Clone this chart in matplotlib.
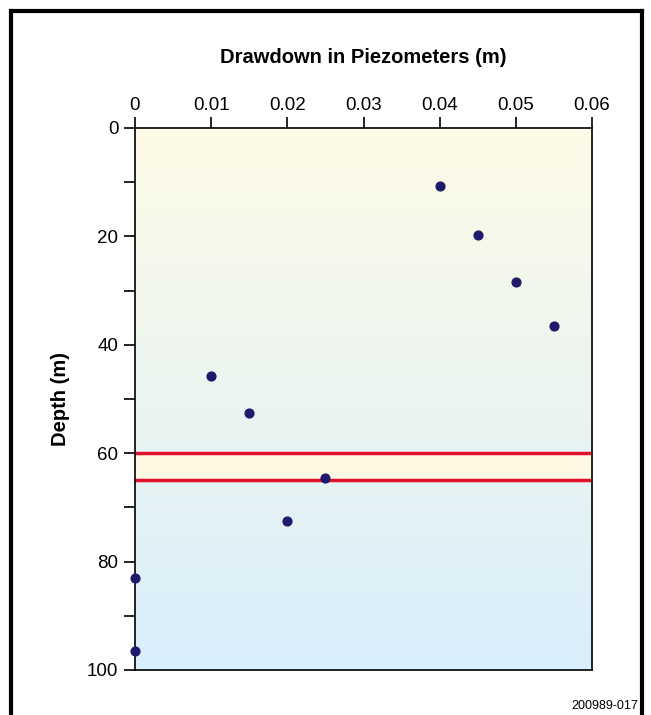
import matplotlib
matplotlib.use("Agg")
import matplotlib.pyplot as plt
import numpy as np
from matplotlib.colors import LinearSegmentedColormap
from matplotlib.lines import Line2D

# drawdown (m) and depth (m) of the piezometers
drawdown = [0.04, 0.045, 0.05, 0.055, 0.01, 0.015, 0.025, 0.02, 0.0, 0.0]
depth = [10.7, 19.7, 28.4, 36.5, 45.8, 52.6, 64.6, 72.5, 83.0, 96.5]
band_top, band_bottom = 60, 65
x_ticks = [0, 0.01, 0.02, 0.03, 0.04, 0.05, 0.06]
y_ticks = [0, 20, 40, 60, 80, 100]

plt.rcParams['font.family'] = ['Liberation Sans', 'DejaVu Sans']

fig = plt.figure(figsize=(6.51, 7.15), dpi=100)
ax = fig.add_axes([135/651, 1-670/715, 457/651, 542/715])

# background gradient, yellow at top to light blue at bottom
cmap = LinearSegmentedColormap.from_list('bg', ['#fefbe6', '#d8eefb'])
grad = np.linspace(0, 1, 256).reshape(-1, 1)
ax.imshow(grad, cmap=cmap, aspect='auto', extent=[0, 0.06, 100, 0], zorder=0)

ax.axhspan(band_top, band_bottom, color='#fef9e2', zorder=1, lw=0)
ax.axhline(band_top, color='#e3102e', lw=2.5, zorder=2)
ax.axhline(band_bottom, color='#e3102e', lw=2.5, zorder=2)

ax.scatter(drawdown, depth, s=40, color='#201a6c', zorder=3, clip_on=False)

ax.set_xlim(0, 0.06)
ax.set_ylim(100, 0)
ax.xaxis.tick_top()
ax.set_xticks(x_ticks)
ax.set_xticklabels(['0', '0.01', '0.02', '0.03', '0.04', '0.05', '0.06'])
ax.set_yticks(y_ticks)
ax.set_yticks(np.arange(10, 100, 20), minor=True)
ax.tick_params(axis='both', which='both', direction='out', length=8, width=1.2,
               labelsize=13.5, pad=4)
ax.tick_params(axis='x', pad=2)
for s in ax.spines.values():
    s.set_linewidth(1.2)

ax.set_title('Drawdown in Piezometers (m)', fontsize=14.5, fontweight='bold', pad=47)
ax.set_ylabel('Depth (m)', fontsize=14.5, fontweight='bold', labelpad=12)

fig.text(638/651, 1-706/715, '200989-017', fontsize=9, ha='right', va='center')

# outer frame, open at the bottom
frame_kw = dict(color='black', lw=3, transform=fig.transFigure)
fig.add_artist(Line2D([11/651, 11/651], [0, 1-11/715], **frame_kw))
fig.add_artist(Line2D([11/651, 642/651], [1-11/715, 1-11/715], **frame_kw))
fig.add_artist(Line2D([642/651, 642/651], [0, 1-11/715], **frame_kw))

fig.savefig('out.png', dpi=100)
